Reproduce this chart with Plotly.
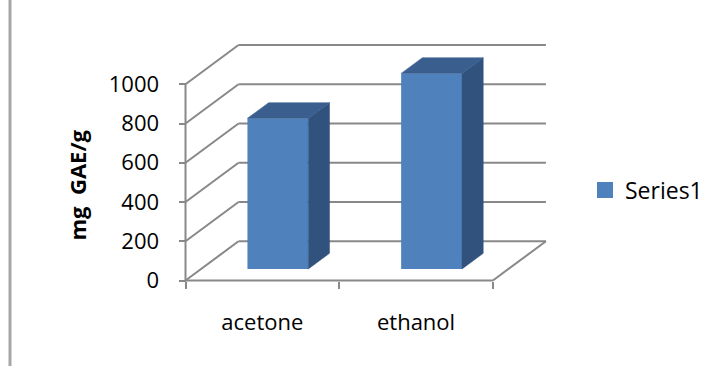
import plotly.graph_objects as go

# ---- data ----
categories = ["acetone", "ethanol"]
values = [768, 997]
y_ticks = [0, 200, 400, 600, 800, 1000]
series_name = "Series1"

# ---- styling / geometry constants ----
W, H = 717, 366
L, R, T, B = 170, 560, 30, 300          # plot area pixel box
X0PX, XU = 185.5, 153.7                 # pixel of x=0, px per category unit
Y0PX, YU = 280.5, 0.1962                # pixel of y=0, px per value unit
DEPTH_X, DEPTH_Y = 0.345, 200           # 3D depth offset (x units, value units)
BAR_FRONT, BAR_DEPTH, BAR_WIDTH = 0.293, 0.40, 0.396
FRONT_C, SIDE_C, TOP_C = "#4F81BD", "#30527D", "#3A5F8E"
GRID_C = "#888888"
FONT = "Open Sans"
FS = 22

xr = [(L - X0PX) / XU, (R - X0PX) / XU]
yr = [(Y0PX - B) / YU, (Y0PX - T) / YU]


def px_to_paper_x(px):
    return (px - L) / (R - L)


def px_to_paper_y(py):
    return (B - py) / (B - T)


fig = go.Figure()

n = len(categories)
bx = [i + 0.5 + BAR_FRONT * DEPTH_X for i in range(n)]
base = BAR_FRONT * DEPTH_Y
dx, dy = BAR_DEPTH * DEPTH_X, BAR_DEPTH * DEPTH_Y

fig.add_trace(go.Bar(x=bx, y=values, base=base, width=BAR_WIDTH,
                     marker=dict(color=FRONT_C, line=dict(width=0)),
                     showlegend=False, hoverinfo="skip"))

for xc, v in zip(bx, values):
    x0, x1 = xc - BAR_WIDTH / 2, xc + BAR_WIDTH / 2
    top = base + v
    # side face
    fig.add_trace(go.Scatter(
        x=[x1, x1 + dx, x1 + dx, x1, x1],
        y=[base, base + dy, top + dy, top, base],
        fill="toself", fillcolor=SIDE_C, mode="lines",
        line=dict(color=SIDE_C, width=0.5), showlegend=False, hoverinfo="skip"))
    # top face
    fig.add_trace(go.Scatter(
        x=[x0, x0 + dx, x1 + dx, x1, x0],
        y=[top, top + dy, top + dy, top, top],
        fill="toself", fillcolor=TOP_C, mode="lines",
        line=dict(color=TOP_C, width=0.5), showlegend=False, hoverinfo="skip"))

# legend entry
fig.add_trace(go.Scatter(x=[None], y=[None], mode="markers", name=series_name,
                         marker=dict(symbol="square", size=16, color=FRONT_C)))

shapes = []
line = dict(color=GRID_C, width=2)
# wall gridlines: diagonal on left wall + horizontal on back wall
for v in y_ticks:
    shapes.append(dict(type="line", xref="x", yref="y", x0=0, y0=v,
                       x1=DEPTH_X, y1=v + DEPTH_Y, line=line, layer="below"))
    shapes.append(dict(type="line", xref="x", yref="y", x0=DEPTH_X, y0=v + DEPTH_Y,
                       x1=n + DEPTH_X, y1=v + DEPTH_Y, line=line, layer="below"))
# front y-axis line
shapes.append(dict(type="line", xref="x", yref="y", x0=0, y0=0, x1=0, y1=max(y_ticks),
                   line=line, layer="below"))
# floor front edge and right edge
shapes.append(dict(type="line", xref="x", yref="y", x0=0, y0=0, x1=n, y1=0,
                   line=line, layer="below"))
shapes.append(dict(type="line", xref="x", yref="y", x0=n, y0=0, x1=n + DEPTH_X, y1=DEPTH_Y,
                   line=line, layer="below"))
# page border fragment on the left
shapes.append(dict(type="line", xref="paper", yref="paper",
                   x0=px_to_paper_x(10), x1=px_to_paper_x(10),
                   y0=px_to_paper_y(0), y1=px_to_paper_y(H),
                   line=dict(color="#A6A6A6", width=3)))

fig.update_layout(
    width=W, height=H,
    margin=dict(l=L, r=W - R, t=T, b=H - B, autoexpand=False),
    paper_bgcolor="white", plot_bgcolor="white",
    font=dict(family=FONT, size=FS, color="black"),
    shapes=shapes,
    showlegend=True,
    legend=dict(x=px_to_paper_x(585), y=px_to_paper_y(190), xanchor="left", yanchor="middle",
                font=dict(family=FONT, size=23, color="black"), bgcolor="rgba(0,0,0,0)"),
    xaxis=dict(range=xr, showgrid=False, zeroline=False, showline=False,
               tickmode="array", tickvals=[i + 0.5 for i in range(n)], ticktext=categories,
               ticks="", anchor="free", position=px_to_paper_y(Y0PX),
               ticklabelstandoff=26, automargin=False,
               minor=dict(tickmode="array", tickvals=list(range(n + 1)), ticks="outside",
                          ticklen=7, tickwidth=2, tickcolor=GRID_C, showgrid=False)),
    yaxis=dict(range=yr, showgrid=False, zeroline=False, showline=False,
               tickmode="array", tickvals=y_ticks, ticks="outside", ticklen=7,
               tickwidth=2, tickcolor=GRID_C, anchor="free", automargin=False,
               position=px_to_paper_x(X0PX), ticklabelstandoff=15),
    annotations=[dict(text="<b>mg\u00a0 GAE/g</b>", xref="paper", yref="paper",
                      x=px_to_paper_x(76.5), y=px_to_paper_y(185), textangle=-90,
                      xanchor="center", yanchor="middle",
                      showarrow=False, font=dict(family=FONT, size=22, color="black"))],
)

fig.write_html("out.html")
